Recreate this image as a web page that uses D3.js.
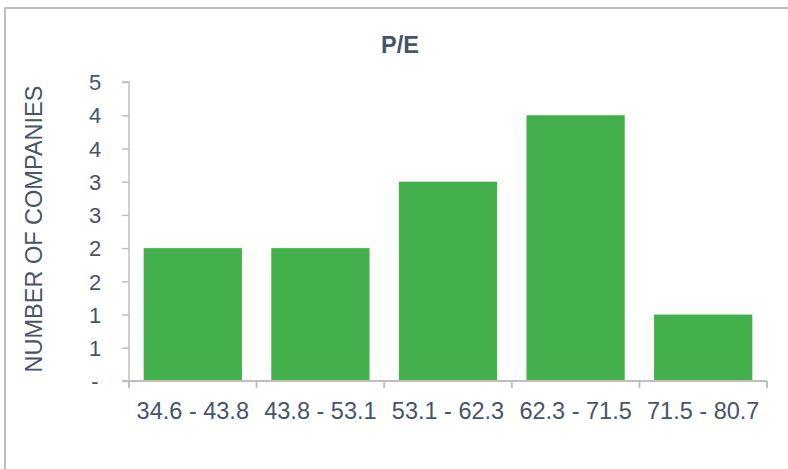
<!DOCTYPE html>
<html><head><meta charset="utf-8">
<script src="https://cdn.jsdelivr.net/npm/d3@7"></script>
<style>body{margin:0;background:#fff;}svg{display:block;}</style>
</head><body>
<script>
const categories = ["34.6 - 43.8","43.8 - 53.1","53.1 - 62.3","62.3 - 71.5","71.5 - 80.7"];
const values = [2, 2, 3, 4, 1];
const yTickValues = [0,0.5,1,1.5,2,2.5,3,3.5,4,4.5];
const yTickLabels = ["-","1","1","2","2","3","3","4","4","5"];
const title = "P/E";
const yTitle = "NUMBER OF COMPANIES";

(function(){
const W = 788, H = 469;
const svg = d3.select("body").append("svg").attr("width", W).attr("height", H);
const textColor = "#44546A", axisColor = "#BFBFBF", barColor = "#44B04C";
const font = "'Liberation Sans', Arial, sans-serif";

svg.append("path").attr("d", `M5,${H} V8 H${W}`).attr("fill","none").attr("stroke","#BFBFBF").attr("stroke-width",2);

const pLeft = 129, pRight = 767, pTop = 82, pBottom = 381;
const x = d3.scaleBand().domain(categories).range([pLeft, pRight]).paddingInner(0.23).paddingOuter(0.115);
const y = d3.scaleLinear().domain([0, 4.5]).range([pBottom, pTop]);

svg.append("g").selectAll("rect").data(values).join("rect")
  .attr("x", (d,i) => x(categories[i]))
  .attr("width", x.bandwidth())
  .attr("y", d => y(d))
  .attr("height", d => y(0) - y(d))
  .attr("fill", barColor);

const yAxis = d3.axisLeft(y).tickValues(yTickValues).tickSize(7).tickPadding(22)
  .tickFormat((d,i) => yTickLabels[i]);
const gy = svg.append("g").attr("transform", `translate(${pLeft},0)`).call(yAxis);
gy.select(".domain").attr("stroke", axisColor).attr("stroke-width", 1.5).attr("d", `M-7,${pTop}H0V${pBottom}`);
gy.selectAll(".tick line").attr("stroke", axisColor).attr("stroke-width", 1.5);
gy.selectAll(".tick text").attr("fill", textColor).style("font-family", font).style("font-size", "22px").attr("text-anchor","middle").attr("x", -34).attr("dy","0.35em");

const xb = d3.scalePoint().domain(d3.range(categories.length+1)).range([pLeft, pRight]);
svg.append("line").attr("x1", pLeft-7).attr("x2", pRight).attr("y1", pBottom).attr("y2", pBottom)
  .attr("stroke", axisColor).attr("stroke-width", 2);
svg.append("g").selectAll("line").data(d3.range(categories.length+1)).join("line")
  .attr("x1", d => xb(d)).attr("x2", d => xb(d)).attr("y1", pBottom).attr("y2", pBottom+7)
  .attr("stroke", axisColor).attr("stroke-width", 2);
svg.append("g").selectAll("text").data(categories).join("text")
  .attr("x", d => x(d) + x.bandwidth()/2).attr("y", 419)
  .attr("text-anchor","middle").attr("fill", textColor).style("font-family", font).style("font-size", "23.5px")
  .text(d => d);

svg.append("text").attr("x", 400).attr("y", 53).attr("text-anchor","middle")
  .attr("fill", textColor).style("font-family", font).style("font-size", "23.5px").attr("font-weight","bold").text(title);

svg.append("text").attr("transform", `translate(42,229) rotate(-90)`).attr("text-anchor","middle")
  .attr("fill", textColor).style("font-family", font).style("font-size", "23.5px").text(yTitle);
})();
</script>
</body></html>
